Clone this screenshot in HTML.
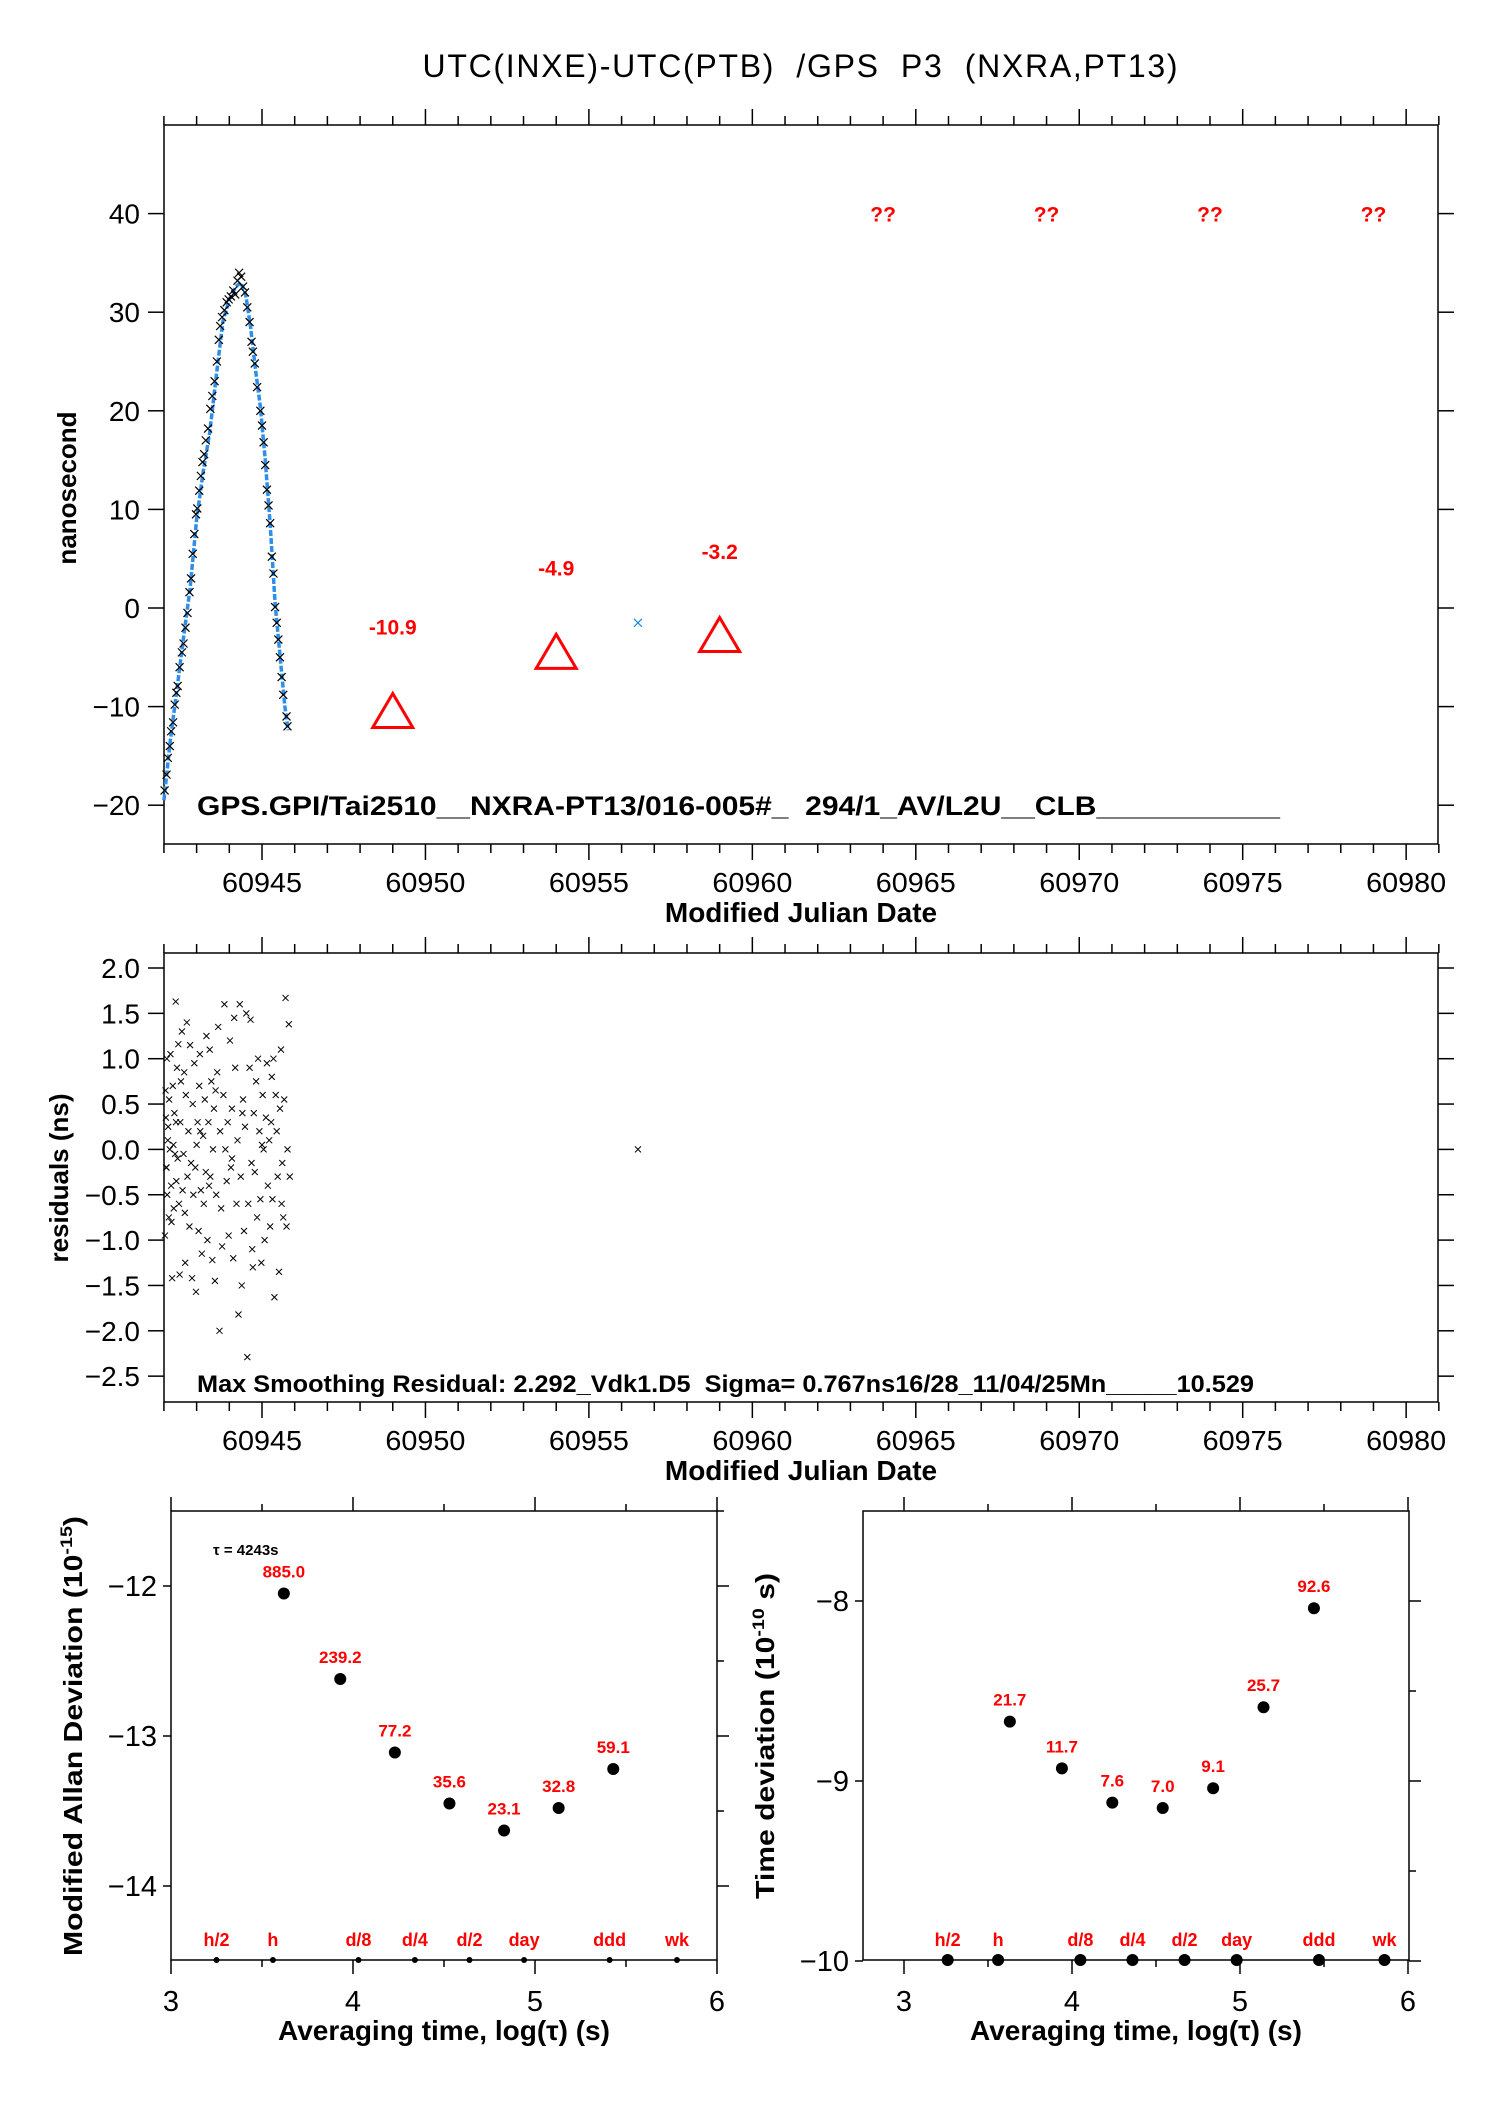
<!DOCTYPE html>
<html><head><meta charset="utf-8"><title>UTC(INXE)-UTC(PTB) GPS P3</title>
<style>
html,body{margin:0;padding:0;background:#fff;}
svg{display:block;font-family:"Liberation Sans",sans-serif;}
text{white-space:pre;}
</style></head>
<body>
<svg id="chart" xmlns="http://www.w3.org/2000/svg" width="1488" height="2105" viewBox="0 0 1488 2105">
<rect width="1488" height="2105" fill="#fff"/>
<text x="800" y="77" font-size="32" text-anchor="middle" fill="#000" textLength="755" lengthAdjust="spacing" xml:space="preserve">UTC(INXE)-UTC(PTB)  /GPS  P3  (NXRA,PT13)</text>
<g id="g"></g>
</svg>
<script>
// ---- top panel data ----
const measMjd = [60942.02,60942.08,60942.12,60942.18,60942.22,60942.28,60942.33,60942.38,60942.42,60942.48,60942.55,60942.6,60942.66,60942.72,60942.78,60942.83,60942.88,60942.93,60942.98,60943.02,60943.08,60943.13,60943.18,60943.23,60943.28,60943.35,60943.42,60943.48,60943.55,60943.62,60943.68,60943.72,60943.78,60943.85,60943.92,60943.98,60944.05,60944.12,60944.18,60944.25,60944.3,60944.36,60944.42,60944.48,60944.55,60944.62,60944.68,60944.72,60944.78,60944.85,60944.95,60945.0,60945.05,60945.1,60945.15,60945.2,60945.25,60945.3,60945.35,60945.4,60945.45,60945.5,60945.55,60945.6,60945.65,60945.75,60945.78,60956.5];
const measVal = [-18.5,-16.9,-15.2,-14.0,-12.5,-11.6,-9.8,-8.6,-7.9,-6.0,-4.5,-3.6,-2.0,-0.5,1.6,3.0,5.5,7.5,9.5,10.1,11.9,13.4,14.8,15.6,17.0,18.2,20.2,21.5,23.0,25.0,27.2,28.6,29.5,30.2,31.0,31.3,31.6,32.2,31.8,33.2,34.0,33.6,32.6,32.0,30.5,29.0,27.0,26.0,24.8,22.4,20.0,18.5,16.8,14.5,12.0,10.4,8.6,5.2,3.5,0.1,-1.5,-3.2,-5.0,-7.0,-8.8,-11.0,-12.0,-1.5];
const fitMjd = [60942.0,60942.2,60942.4,60942.6,60942.8,60943.0,60943.2,60943.4,60943.6,60943.8,60944.0,60944.2,60944.35,60944.5,60944.65,60944.8,60944.95,60945.1,60945.25,60945.4,60945.55,60945.7,60945.8];
const fitVal = [-19.5,-13.3,-8.2,-3.0,2.0,9.0,13.8,17.8,23.5,29.0,31.3,32.6,33.0,31.8,28.5,24.2,20.4,15.0,8.5,0.5,-4.8,-10.0,-12.4];
const triMjd = [60949,60954,60959];
const triVal = [-10.9,-4.9,-3.2];
const triLabels = ["-10.9","-4.9","-3.2"];
const unkMjd = [60964,60969,60974,60979];
const topXTicks = [60945,60950,60955,60960,60965,60970,60975,60980];
const topYTicks = [-20,-10,0,10,20,30,40];
// ---- residuals ----
const resMjd = [60942.03,60942.05,60942.06,60942.08,60942.09,60942.1,60942.12,60942.13,60942.15,60942.16,60942.18,60942.2,60942.22,60942.23,60942.25,60942.27,60942.29,60942.3,60942.32,60942.34,60942.36,60942.38,60942.4,60942.42,60942.44,60942.46,60942.48,60942.5,60942.52,60942.55,60942.57,60942.6,60942.62,60942.65,60942.67,60942.7,60942.72,60942.75,60942.78,60942.8,60942.83,60942.86,60942.88,60942.9,60942.93,60942.96,60942.98,60943.0,60943.03,60943.06,60943.08,60943.1,60943.13,60943.16,60943.2,60943.22,60943.25,60943.28,60943.3,60943.33,60943.36,60943.4,60943.42,60943.45,60943.48,60943.5,60943.53,60943.56,60943.6,60943.63,60943.66,60943.7,60943.72,60943.75,60943.78,60943.82,60943.85,60943.88,60943.92,60943.95,60943.98,60944.02,60944.05,60944.08,60944.12,60944.15,60944.18,60944.22,60944.25,60944.28,60944.32,60944.35,60944.38,60944.42,60944.45,60944.48,60944.52,60944.55,60944.58,60944.62,60944.65,60944.68,60944.72,60944.75,60944.78,60944.82,60944.85,60944.88,60944.92,60944.95,60944.98,60945.02,60945.05,60945.08,60945.12,60945.15,60945.18,60945.22,60945.25,60945.28,60945.32,60945.35,60945.38,60945.42,60945.45,60945.48,60945.52,60945.55,60945.58,60945.62,60945.65,60945.68,60945.72,60945.75,60945.78,60945.82,60945.85,60942.07,60942.37,60942.64,60943.11,60943.38,60943.58,60944.08,60944.4,60944.7,60945.0,60945.3,60945.6,60956.5];
const resVal = [-0.95,0.65,0.35,-0.2,1.0,-0.5,0.1,0.25,-0.75,0.55,0.0,1.05,-0.4,-0.8,-1.42,0.7,0.05,-0.65,0.4,-0.05,1.63,-0.35,0.9,-0.1,1.16,-0.6,-1.38,0.3,0.75,1.3,-0.45,-0.05,0.85,-1.25,0.6,1.4,-0.3,0.2,-0.85,1.15,-0.15,-1.42,0.5,-0.5,0.95,-0.2,-1.57,0.05,0.3,-0.9,0.7,1.05,-0.45,-1.15,0.15,-0.6,0.55,-0.25,1.25,-1.0,0.3,1.1,-0.3,0.75,-1.22,0.0,0.45,-1.45,-0.5,0.85,1.35,-2.0,0.2,-0.65,-1.07,0.6,1.6,0.0,-0.35,0.3,-0.95,1.2,-0.2,0.45,-1.2,1.45,0.9,-0.6,0.1,-1.82,1.6,-0.3,-1.5,0.55,-0.9,0.25,1.5,-2.29,-0.6,0.9,1.43,-0.15,-1.3,0.4,-0.25,0.75,-0.75,1.0,0.2,-0.55,-1.25,0.6,0.0,-1.0,0.35,0.95,-0.4,0.1,-0.85,0.3,-0.55,1.0,-1.63,0.6,0.2,-0.3,-1.35,0.45,1.1,-0.15,-0.75,0.55,1.67,-0.85,0.0,1.38,-0.3,-0.2,0.3,-0.7,0.2,-0.4,0.65,-0.1,0.4,-1.1,0.05,0.8,-0.6,0.0];
const resYTicks = [-2.5,-2.0,-1.5,-1.0,-0.5,0.0,0.5,1.0,1.5,2.0];
// ---- stability ----
const logTau = [3.62,3.93,4.23,4.53,4.83,5.13,5.43];
const madVal = [-12.05,-12.62,-13.11,-13.45,-13.63,-13.48,-13.22];
const madLabels = ["885.0","239.2","77.2","35.6","23.1","32.8","59.1"];
const tdevLogTau = [3.63,3.94,4.24,4.54,4.84,5.14,5.44];
const tdevVal = [-8.67,-8.93,-9.12,-9.15,-9.04,-8.59,-8.04];
const tdevLabels = ["21.7","11.7","7.6","7.0","9.1","25.7","92.6"];
const markNames = ["h/2","h","d/8","d/4","d/2","day","ddd","wk"];
const markLogA = [3.25,3.56,4.03,4.34,4.64,4.94,5.41,5.78];
const markLogT = [3.26,3.56,4.05,4.36,4.67,4.98,5.47,5.86];
const stabXTicks = [3,4,5,6];
const madYTicks = [-14,-13,-12];
const tdevYTicks = [-10,-9,-8];

const NS="http://www.w3.org/2000/svg";
const G=document.getElementById('g');
function el(tag,attrs,parent,txt){const e=document.createElementNS(NS,tag);for(const k in attrs)e.setAttribute(k,attrs[k]);if(txt!==undefined)e.textContent=txt;(parent||G).appendChild(e);return e;}
function line(x1,y1,x2,y2,w,p){return el('line',{x1,y1,x2,y2,stroke:'#000','stroke-width':w||1.5},p);}
function cross(x,y,s,c,p,w){const d=`M${x-s},${y-s}L${x+s},${y+s}M${x-s},${y+s}L${x+s},${y-s}`;return el('path',{d,stroke:c,'stroke-width':w||1,fill:'none'},p);}

// axis functions
const xMjd=m=>262+(m-60945)*32.69;
const yTop=v=>608-v*9.86;
const yRes=v=>968+(2-v)*90.7;
const xA=l=>171+(l-3)*182, yA=v=>1586-(v+12)*150;
const xT=l=>904+(l-3)*168, yT=v=>1601-(v+8)*180;

function mjdFrame(top,bot,name){
  const f=el('g',{});
  
  
  el('rect',{x:164,y:top,width:1274,height:bot-top,fill:'none',stroke:'#000','stroke-width':1.5},f);
  for(let m=60942;m<=60981;m++){
    const x=xMjd(m);const major=(m%5===0);const L=major?16:9;
    line(x,top,x,top-L,1.5,f);line(x,bot,x,bot+L,1.5,f);
  }
  topXTicks.forEach(m=>{
    const t=el('text',{x:xMjd(m),y:bot+48,'font-size':28,'text-anchor':'middle',textLength:80,lengthAdjust:'spacingAndGlyphs'},f,String(m));
    
    
  });
  const xt=el('text',{x:801,y:bot+78,'font-size':28,'font-weight':'bold','text-anchor':'middle'},f,'Modified Julian Date');
  
  
  return f;
}

// ---- top panel ----
const tp=mjdFrame(125,844,'offset-panel');
topYTicks.forEach(v=>{
  const y=yTop(v);line(148,y,164,y,1.5,tp);line(1438,y,1454,y,1.5,tp);
  const t=el('text',{x:140,y:y+10,'font-size':28,'text-anchor':'end'},tp,v<0?'\u2212'+(-v):String(v));
  
  
});
const yl=el('text',{x:0,y:0,'font-size':26,'font-weight':'bold','text-anchor':'middle',transform:'translate(76,488) rotate(-90)'},tp,'nanosecond');


const fl=el('polyline',{points:fitMjd.map((m,i)=>xMjd(m)+','+yTop(fitVal[i])).join(' '),fill:'none',stroke:'#2f8fe8','stroke-width':3.5,'stroke-dasharray':'6 2'},tp);


measMjd.forEach((m,i)=>{
  const c=cross(xMjd(m),yTop(measVal[i]),4,m>60950?'#1e88e5':'#000',tp,1.2);
  
  
});
triMjd.forEach((m,i)=>{
  const x=xMjd(m),y=yTop(triVal[i]);
  const t=el('polygon',{points:`${x},${y-22} ${x-20},${y+12} ${x+20},${y+12}`,fill:'none',stroke:'#f00','stroke-width':3},tp);
  
  
  const lb=el('text',{x,y:yTop(triVal[i]+9)+8,'font-size':21,'font-weight':'bold','text-anchor':'middle',fill:'#f00'},tp,triLabels[i]);
  
  
});
unkMjd.forEach(m=>{
  const t=el('text',{x:xMjd(m),y:yTop(40)+8,'font-size':21,'font-weight':'bold','text-anchor':'middle',fill:'#f00'},tp,'??');
  
  
});
const info=el('text',{x:197,y:815,'font-size':27,'font-weight':'bold',textLength:1083,lengthAdjust:'spacingAndGlyphs'},tp,'GPS.GPI/Tai2510__NXRA-PT13/016-005#_  294/1_AV/L2U__CLB___________');



// ---- residual panel ----
const rp=mjdFrame(953,1402,'residual-panel');
resYTicks.forEach(v=>{
  const y=yRes(v);line(148,y,164,y,1.5,rp);line(1438,y,1454,y,1.5,rp);
  const s=v.toFixed(1);
  const t=el('text',{x:140,y:y+10,'font-size':28,'text-anchor':'end'},rp,v<0?'\u2212'+s.slice(1):s);
  
  
});
const rl=el('text',{x:0,y:0,'font-size':26,'font-weight':'bold','text-anchor':'middle',transform:'translate(68,1178) rotate(-90)'},rp,'residuals (ns)');


resMjd.forEach((m,i)=>{
  const c=cross(xMjd(m),yRes(resVal[i]),3,'#000',rp);
  
  
});
const ri=el('text',{x:197,y:1392,'font-size':24,'font-weight':'bold',textLength:1057,lengthAdjust:'spacingAndGlyphs'},rp,'Max Smoothing Residual: 2.292_Vdk1.D5  Sigma= 0.767ns16/28_11/04/25Mn_____10.529');



// ---- stability panels ----
function stabPanel(name,x0,x1,xf,yf,yTicks,minorTicks,xs,ys,labels,marks,dotR,markR,ytitle,ytx,ytLen){
  const p=el('g',{});
  
  
  el('rect',{x:x0,y:1511,width:x1-x0,height:449,fill:'none',stroke:'#000','stroke-width':1.5},p);
  [3,3.5,4,4.5,5,5.5,6].forEach(l=>{const L=(l%1===0)?14:7;const x=xf(l);line(x,1511,x,1511-L,1.5,p);line(x,1960,x,1960+L,1.5,p);});
  stabXTicks.forEach(l=>{
    const t=el('text',{x:xf(l),y:2011,'font-size':29,'text-anchor':'middle'},p,String(l));
    
    
  });
  yTicks.forEach(v=>{
    const y=yf(v);line(x0-8,y,x0,y,1.5,p);line(x1,y,x1+12,y,1.5,p);
    const t=el('text',{x:x0-14,y:y+10,'font-size':29,'text-anchor':'end'},p,'\u2212'+(-v));
    
    
  });
  minorTicks.forEach(v=>{const y=yf(v);line(x1,y,x1+7,y,1.5,p);});
  xs.forEach((l,i)=>{
    const d=el('circle',{cx:xf(l),cy:yf(ys[i]),r:dotR,fill:'#000'},p);
    
    
    const t=el('text',{x:xf(l),y:yf(ys[i])-16,'font-size':17,'font-weight':'bold','text-anchor':'middle',fill:'#f00'},p,labels[i]);
    
    
  });
  marks.forEach((l,i)=>{
    el('circle',{cx:xf(l),cy:1960,r:markR,fill:'#000'},p);
    const t=el('text',{x:xf(l),y:1946,'font-size':18,'font-weight':'bold','text-anchor':'middle',fill:'#f00'},p,markNames[i]);
    
    
  });
  const xt=el('text',{x:(x0+x1)/2,y:2040,'font-size':28,'font-weight':'bold','text-anchor':'middle'},p,'Averaging time, log(\u03c4) (s)');
  
  
  const yt=el('text',{x:0,y:0,'font-size':26,'font-weight':'bold','text-anchor':'middle',textLength:ytLen,lengthAdjust:'spacingAndGlyphs',transform:`translate(${ytx},1736) rotate(-90)`},p);
  
  
  el('tspan',{},yt,ytitle[0]);
  el('tspan',{dy:-10,'font-size':17},yt,ytitle[1]);
  el('tspan',{dy:10},yt,ytitle[2]);
  return p;
}
const ap=stabPanel('allan-deviation-panel',171,717,xA,yA,madYTicks,[-11.5,-12.5,-13.5],logTau,madVal,madLabels,markLogA,6,3,['Modified Allan Deviation (10','-15',')'],82,440);
const tau=el('text',{x:213,y:1555,'font-size':15,'font-weight':'bold'},ap,'\u03c4 = 4243s');


stabPanel('time-deviation-panel',863,1409,xT,yT,tdevYTicks,[-8.5,-9.5],tdevLogTau,tdevVal,tdevLabels,markLogT,6,6,['Time deviation (10','-10',' s)'],774,326);
</script>
</body></html>
